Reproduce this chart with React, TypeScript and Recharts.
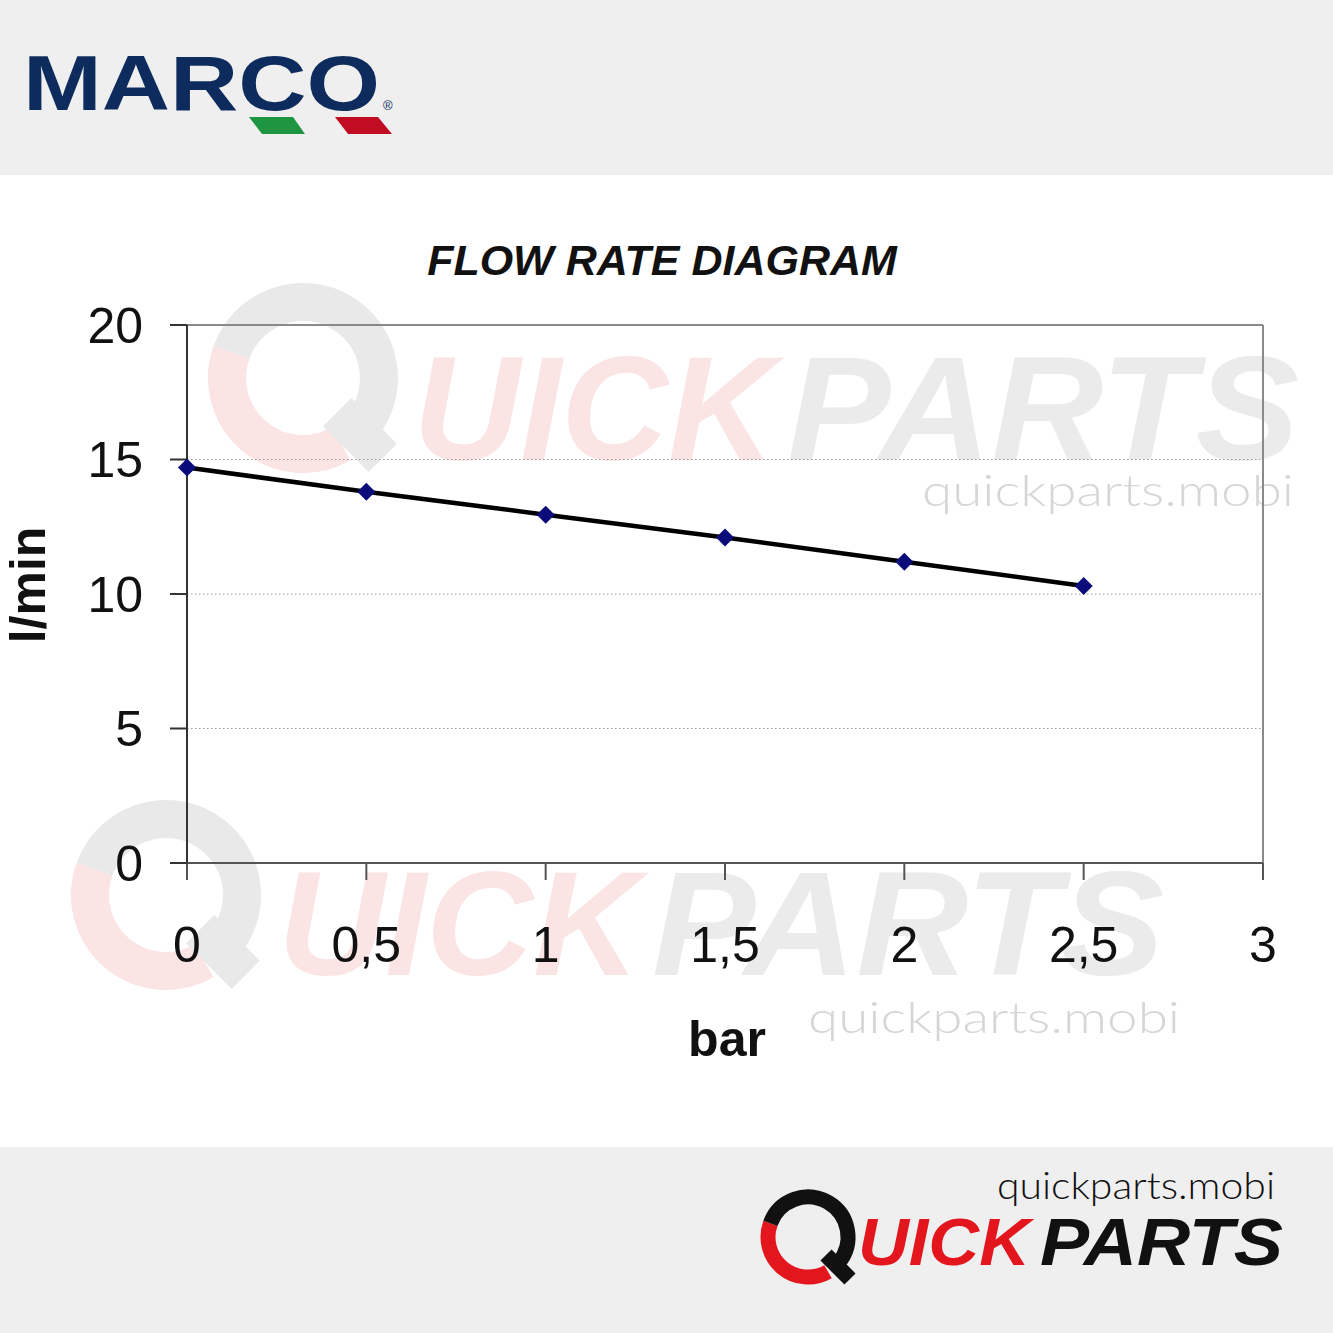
import React from "react";
import {
  LineChart,
  Line,
  XAxis,
  YAxis,
  CartesianGrid,
  ReferenceLine,
} from "recharts";

// pressure (bar) vs flow (l/min)
const pressures = [0, 0.5, 1, 1.5, 2, 2.5];
const flows = [14.7, 13.8, 12.95, 12.1, 11.2, 10.3];
const xTicks = [0, 0.5, 1, 1.5, 2, 2.5, 3];
const yTicks = [0, 5, 10, 15, 20];

const data = pressures.map((p, i) => ({ bar: p, flow: flows[i] }));

const FONT = "'Liberation Sans', Arial, sans-serif";
const THIN = "Lato, 'Open Sans', sans-serif";

const Diamond = (props: any) => {
  const { cx, cy } = props;
  if (cx == null || cy == null) return null;
  const s = 9;
  return (
    <polygon
      points={`${cx},${cy - s} ${cx + s},${cy} ${cx},${cy + s} ${cx - s},${cy}`}
      fill="#0b0b7a"
    />
  );
};

function arc(cx: number, cy: number, r: number, a1: number, a2: number) {
  const rad = (d: number) => (d * Math.PI) / 180;
  const x1 = cx + r * Math.cos(rad(a1));
  const y1 = cy + r * Math.sin(rad(a1));
  const x2 = cx + r * Math.cos(rad(a2));
  const y2 = cy + r * Math.sin(rad(a2));
  const large = a2 - a1 > 180 ? 1 : 0;
  return `M${x1},${y1} A${r},${r} 0 ${large} 1 ${x2},${y2}`;
}

// the Q ring of the quickparts logo
function QMark({ cx, cy, r, w, left, right }: any) {
  return (
    <g fill="none" strokeWidth={w}>
      <path d={arc(cx, cy, r, 60, 200)} stroke={left} />
      <path d={arc(cx, cy, r, 200, 400)} stroke={right} />
      <line
        x1={cx + r * 0.45}
        y1={cy + r * 0.45}
        x2={cx + r * 1.05}
        y2={cy + r * 1.05}
        stroke={right}
        strokeWidth={w * 1.05}
      />
    </g>
  );
}

function Watermark({ qx, qy, x, y }: any) {
  return (
    <g>
      <QMark cx={qx} cy={qy} r={76} w={38} left="#fbe4e4" right="#e9e9e9" />
      <text
        x={x}
        y={y}
        fontFamily={FONT}
        fontWeight="bold"
        fontStyle="italic"
        fontSize={148}
        fill="#fbe4e4"
        textLength={362}
        lengthAdjust="spacingAndGlyphs"
      >
        UICK
      </text>
      <text
        x={x + 374}
        y={y}
        fontFamily={FONT}
        fontWeight="bold"
        fontStyle="italic"
        fontSize={148}
        fill="#ebebeb"
        textLength={512}
        lengthAdjust="spacingAndGlyphs"
      >
        PARTS
      </text>
    </g>
  );
}

export default function App() {
  return (
    <div
      style={{
        position: "absolute",
        left: 0,
        top: 0,
        width: 1333,
        height: 1333,
        background: "#ffffff",
        overflow: "hidden",
      }}
    >
      {/* background: bands and watermarks */}
      <svg width={1333} height={1333} style={{ position: "absolute", left: 0, top: 0 }}>
        <rect x={0} y={0} width={1333} height={175} fill="#efefef" />
        <rect x={0} y={1147} width={1333} height={186} fill="#efefef" />
        <Watermark qx={303} qy={378} x={413} y={460} />
        <Watermark qx={166} qy={895} x={278} y={975} />
        <text x={922} y={506} fontFamily={THIN} fontWeight={300} fontSize={44} fill="#d6d6d6" textLength={372} lengthAdjust="spacingAndGlyphs">
          quickparts.mobi
        </text>
        <text x={808} y={1033} fontFamily={THIN} fontWeight={300} fontSize={44} fill="#d6d6d6" textLength={372} lengthAdjust="spacingAndGlyphs">
          quickparts.mobi
        </text>
      </svg>

      <div style={{ position: "absolute", left: 0, top: 0 }}>
        <LineChart
          width={1333}
          height={1333}
          data={data}
          margin={{ top: 325, right: 70, bottom: 350, left: 0 }}
        >
          <CartesianGrid
            horizontal
            vertical={false}
            horizontalValues={[5, 10, 15]}
            stroke="#9a9a9a"
            strokeDasharray="1.5 2.5"
          />
          <ReferenceLine y={20} stroke="#8a8a8a" strokeWidth={2} />
          <ReferenceLine x={3} stroke="#8a8a8a" strokeWidth={2} />
          <XAxis
            dataKey="bar"
            type="number"
            domain={[0, 3]}
            ticks={xTicks}
            interval={0}
            height={120}
            tickSize={17}
            tickMargin={46}
            tickFormatter={(v: number) => String(v).replace(".", ",")}
            stroke="#555"
            strokeWidth={2}
            tick={{ fill: "#111", fontSize: 50, fontFamily: FONT }}
          />
          <YAxis
            type="number"
            domain={[0, 20]}
            ticks={yTicks}
            interval={0}
            width={187}
            tickSize={17}
            tickMargin={27}
            stroke="#333"
            strokeWidth={2}
            tick={{ fill: "#111", fontSize: 50, fontFamily: FONT }}
          />
          <Line
            type="linear"
            dataKey="flow"
            stroke="#000"
            strokeWidth={4.5}
            dot={(p: any) => <Diamond key={p.index} {...p} />}
            activeDot={false}
            isAnimationActive={false}
          />
        </LineChart>
      </div>

      {/* foreground: titles, labels, logos */}
      <svg
        width={1333}
        height={1333}
        style={{ position: "absolute", left: 0, top: 0, pointerEvents: "none" }}
      >
        <text x={662} y={275} textAnchor="middle" fontFamily={FONT} fontWeight="bold" fontStyle="italic" fontSize={43} fill="#111">
          FLOW RATE DIAGRAM
        </text>
        <text x={727} y={1056} textAnchor="middle" fontFamily={FONT} fontWeight="bold" fontSize={50} fill="#111">
          bar
        </text>
        <text
          x={0}
          y={0}
          transform="translate(45,585) rotate(-90)"
          textAnchor="middle"
          fontFamily={FONT}
          fontWeight="bold"
          fontSize={50}
          fill="#111"
        >
          l/min
        </text>

        {/* MARCO logo */}
        <text x={23} y={110} fontFamily={FONT} fontWeight="bold" fontSize={77} fill="#0d2b5c" textLength={357} lengthAdjust="spacingAndGlyphs">
          MARCO
        </text>
        <text x={383} y={110} fontFamily={FONT} fontSize={13} fill="#0d2b5c">
          ®
        </text>
        <polygon points="249,117 293,117 305,134 262,134" fill="#1e9641" />
        <polygon points="335,117 378,117 392,134 348,134" fill="#c00d23" />

        {/* footer logo */}
        <text x={997} y={1199} fontFamily={THIN} fontWeight={300} fontSize={37} fill="#111" textLength={278} lengthAdjust="spacingAndGlyphs">
          quickparts.mobi
        </text>
        <QMark cx={808} cy={1237} r={40} w={15} left="#e3161e" right="#111" />
        <text x={858} y={1265} fontFamily={FONT} fontWeight="bold" fontStyle="italic" fontSize={66} fill="#e3161e" textLength={172} lengthAdjust="spacingAndGlyphs">
          UICK
        </text>
        <text x={1040} y={1265} fontFamily={FONT} fontWeight="bold" fontStyle="italic" fontSize={66} fill="#111" textLength={243} lengthAdjust="spacingAndGlyphs">
          PARTS
        </text>
      </svg>
    </div>
  );
}
